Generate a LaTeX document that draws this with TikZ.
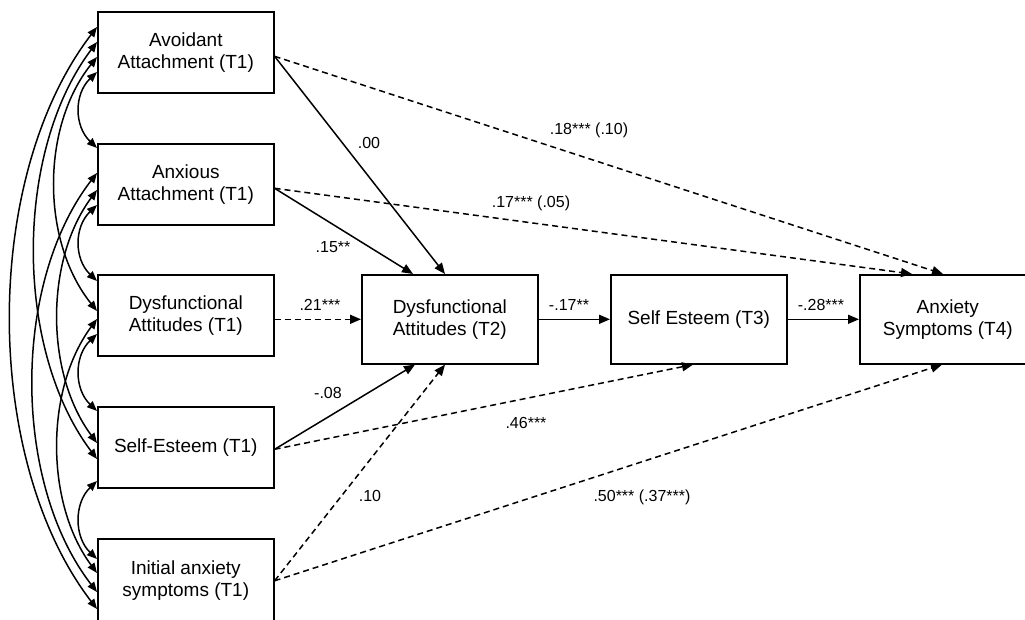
\documentclass[tikz,border=0pt]{standalone}
\usepackage{fontspec}
\setmainfont{Liberation Sans}
\usetikzlibrary{arrows.meta,calc}
\begin{document}
\begin{tikzpicture}[x=1pt,y=-1pt,
  box/.style={draw,line width=1.6pt,minimum width=176pt,minimum height=81pt,inner sep=0pt,align=center,anchor=north west,font=\fontsize{19}{22}\selectfont},
  arr/.style={line width=1.5pt,-{Triangle[length=11pt,width=9pt]}},
  darr/.style={arr,dash pattern=on 6pt off 4pt},
  cov/.style={line width=1.5pt,{Triangle[length=10pt,width=8pt]}-{Triangle[length=10pt,width=8pt]}},
  lab/.style={font=\fontsize{16}{18}\selectfont,inner sep=1pt}]
\path[use as bounding box] (0,0) rectangle (1025,620);
\clip (0,0) rectangle (1025,620);
% boxes
\node[box] (av) at (97,11) {Avoidant\\Attachment (T1)};
\node[box] (ax) at (97,143) {Anxious\\Attachment (T1)};
\node[box] (dy1) at (97,274) {Dysfunctional\\Attitudes (T1)};
\node[box] (se1) at (97,406) {Self-Esteem (T1)};
\node[box,minimum height=84pt] (ia) at (97,538) {Initial anxiety\\symptoms (T1)};
\node[box,minimum height=89pt] (dy2) at (361,274) {Dysfunctional\\Attitudes (T2)};
\node[box,minimum height=89pt] (se3) at (610,274) {Self Esteem (T3)};
\node[box,minimum height=89pt] (an4) at (859,274) {Anxiety\\Symptoms (T4)};
% directed paths
\draw[arr] ($(av.east)+(0,4)$) -- ($(dy2.north west)+(84,0)$);
\draw[arr] ($(ax.east)+(0,4)$) -- ($(dy2.north west)+(52,0)$);
\draw[darr] ($(av.east)+(0,4)$) -- ($(an4.north west)+(84,0)$);
\draw[darr] ($(ax.east)+(0,4)$) -- ($(an4.north west)+(53,0)$);
\draw[darr] (dy1.east |- dy2.west) -- (dy2.west);
\draw[arr] ($(se1.east)+(0,2)$) -- ($(dy2.south west)+(54,0)$);
\draw[darr] ($(se1.east)+(0,2)$) -- ($(se3.south west)+(83,0)$);
\draw[darr] (ia.east) -- ($(dy2.south west)+(84,0)$);
\draw[darr] (ia.east) -- ($(an4.south west)+(83,0)$);
\draw[arr] (dy2.east) -- (se3.west);
\draw[arr] (se3.east) -- (an4.west);
% labels
\node[lab] (l00) at (369,143) {.00};
\node[lab] (l15) at (333,247) {.15**};
\node[lab] (l18) at (589,130) {.18*** (.10)};
\node[lab] (l17) at (531,203) {.17*** (.05)};
\node[lab] (l21) at (320,305) {.21***};
\node[lab] (l08) at (328,393) {-.08};
\node[lab] (l46) at (526,423) {.46***};
\node[lab] (l10) at (370,496) {.10};
\node[lab] (l50) at (642,497) {.50*** (.37***)};
\node[lab] (l17b) at (569,305) {-.17**};
\node[lab] (l28) at (821,305) {-.28***};
% covariances
% adjacent
\draw[cov] ($(av.north west)+(0,61)$) .. controls +(-23,22) and +(-23,-22) .. ($(ax.north west)+(0,5)$);
\draw[cov] ($(ax.north west)+(0,62)$) .. controls +(-23,22) and +(-23,-22) .. ($(dy1.north west)+(0,7)$);
\draw[cov] ($(dy1.north west)+(0,60)$) .. controls +(-23,22) and +(-23,-22) .. ($(se1.north west)+(0,5)$);
\draw[cov] ($(se1.north west)+(0,75)$) .. controls +(-23,22) and +(-23,-22) .. ($(ia.north west)+(0,21)$);
% span 2
\draw[cov] ($(av.north west)+(0,46)$) .. controls +(-56,70) and +(-56,-70) .. ($(dy1.north west)+(0,37)$);
\draw[cov] ($(ax.north west)+(0,47)$) .. controls +(-52,70) and +(-52,-70) .. ($(se1.north west)+(0,37)$);
\draw[cov] ($(dy1.north west)+(0,45)$) .. controls +(-52,70) and +(-52,-70) .. ($(ia.north west)+(0,35)$);
% span 3
\draw[cov] ($(av.north west)+(0,31)$) .. controls +(-83,110) and +(-83,-110) .. ($(se1.north west)+(0,53)$);
\draw[cov] ($(ax.north west)+(0,30)$) .. controls +(-85,110) and +(-85,-110) .. ($(ia.north west)+(0,54)$);
% span 4
\draw[cov] ($(av.north west)+(0,16)$) .. controls +(-115,150) and +(-115,-150) .. ($(ia.north west)+(0,71)$);
\end{tikzpicture}
\end{document}
